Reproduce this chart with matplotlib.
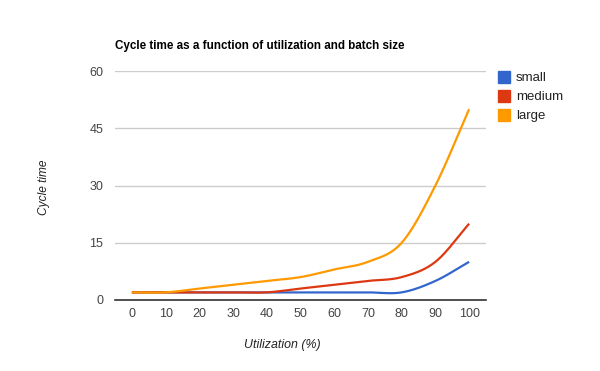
import numpy as np
import matplotlib
matplotlib.use("Agg")
import matplotlib.pyplot as plt
from matplotlib.patches import Rectangle

utilization = [0, 10, 20, 30, 40, 50, 60, 70, 80, 90, 100]
small = [2, 2, 2, 2, 2, 2, 2, 2, 2, 5, 10]
medium = [2, 2, 2, 2, 2, 3, 4, 5, 6, 10, 20]
large = [2, 2, 3, 4, 5, 6, 8, 10, 15, 30, 50]
series_names = ["small", "medium", "large"]
colors = ["#3366cc", "#dc3912", "#ff9900"]
yticks = [0, 15, 30, 45, 60]

plt.rcParams['font.family'] = ['Liberation Sans', 'DejaVu Sans']

W, H = 600, 371
fig = plt.figure(figsize=(W / 100, H / 100), dpi=100)
L, R, T, B = 115, 486, 71, 300
ax = fig.add_axes([L / W, 1 - B / H, (R - L) / W, (B - T) / H])

n = len(utilization)
xs = np.arange(n)


def smooth(y, steps=30):
    y = np.asarray(y, dtype=float)
    m = np.zeros_like(y)
    m[1:-1] = (y[2:] - y[:-2]) / 2
    m[0] = 0
    m[-1] = y[-1] - y[-2]
    px, py = [], []
    for i in range(len(y) - 1):
        t = np.linspace(0, 1, steps, endpoint=(i == len(y) - 2))
        h00 = 2 * t**3 - 3 * t**2 + 1
        h10 = t**3 - 2 * t**2 + t
        h01 = -2 * t**3 + 3 * t**2
        h11 = t**3 - t**2
        px.append(i + t)
        py.append(h00 * y[i] + h10 * m[i] + h01 * y[i + 1] + h11 * m[i + 1])
    return np.concatenate(px), np.concatenate(py)


for name, vals, c in zip(series_names, [small, medium, large], colors):
    sx, sy = smooth(vals)
    ax.plot(sx, sy, color=c, lw=1.6, solid_capstyle='butt', zorder=3)

ax.set_xlim(-0.5, n - 0.5)
ax.set_ylim(0, 60)
ax.set_yticks(yticks)
ax.set_yticklabels([str(v) for v in yticks])
ax.set_xticks(xs)
ax.set_xticklabels([str(u) for u in utilization])
ax.grid(axis='y', color='#cccccc', lw=1)
ax.set_axisbelow(True)
for s in ['top', 'right', 'left']:
    ax.spines[s].set_visible(False)
ax.spines['bottom'].set_color('#333333')
ax.spines['bottom'].set_linewidth(1.2)
ax.spines['bottom'].set_zorder(4)
ax.tick_params(length=0, labelsize=9, colors='#444444')
ax.tick_params(axis='x', pad=6)
ax.tick_params(axis='y', pad=8.5)

fig.text(L / W, 1 - 46 / H, "Cycle time as a function of utilization and batch size",
         fontsize=8.4, fontweight='bold', color='black', va='center', ha='left')
fig.text(282 / W, 1 - 345 / H, "Utilization (%)", fontsize=8.9, style='italic',
         color='#222222', ha='center', va='center')
fig.text(44 / W, 1 - 187 / H, "Cycle time", fontsize=8.6, style='italic',
         color='#222222', ha='center', va='center', rotation=90)

for i, (name, c) in enumerate(zip(series_names, colors)):
    yc = 77 + i * 19
    fig.patches.append(Rectangle((498 / W, 1 - (yc + 6) / H), 12 / W, 12 / H,
                                 transform=fig.transFigure, color=c))
    fig.text(516 / W, 1 - (yc + 1) / H, name, fontsize=9.5, color='#222222',
             ha='left', va='center')

fig.savefig("out.png", dpi=100)
